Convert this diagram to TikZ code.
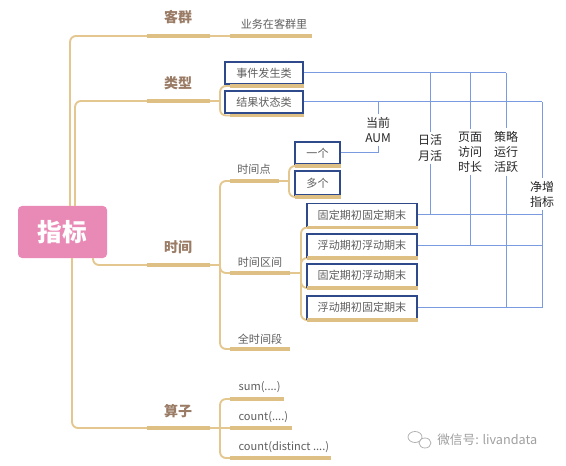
\documentclass[tikz,border=0pt]{standalone}
\usepackage{fontspec}
\setmainfont{Noto Sans CJK SC}
\definecolor{tanc}{HTML}{E3C78E}
\definecolor{tanul}{HTML}{DFC084}
\definecolor{brownc}{HTML}{9A7B65}
\definecolor{pinkc}{HTML}{E98AB6}
\definecolor{boxc}{HTML}{2F4A8A}
\definecolor{linec}{HTML}{7A9BE0}
\definecolor{grayc}{HTML}{5E5E5E}
\begin{document}
\begin{tikzpicture}[x=0.75pt,y=-0.75pt,
  tanln/.style={draw=tanc,line width=1.4pt,rounded corners=4.5pt},
  tanul/.style={draw=tanul,line width=2.4pt},
  lbl/.style={text=brownc,font=\bfseries\fontsize{10.5}{12}\selectfont,inner sep=1pt},
  sub/.style={text=grayc,font=\fontsize{8.3}{10}\selectfont,inner sep=1pt},
  bbox/.style={draw=boxc,line width=1.2pt,fill=white,text=grayc,font=\fontsize{8.3}{10}\selectfont,minimum height=16.5pt,inner sep=0pt},
  bl/.style={draw=linec,line width=0.75pt},
  blbl/.style={text=black!85,font=\fontsize{9}{11.3}\selectfont,align=center,inner sep=2pt},
  rootbox/.style={fill=pinkc,rounded corners=3pt,minimum width=66.75pt,minimum height=39pt,text=white,font=\bfseries\fontsize{18.5}{21}\selectfont}
]
\useasboundingbox (0,0) rectangle (566,466);

% root
\node[rootbox] (root) at (62.5,232) {指标};
\coordinate (r1) at (70,206);
\coordinate (r2) at (75,206);
\coordinate (r3) at (93,258);
\coordinate (r4) at (72,258);

% ---- 客群
\node[lbl] (kq) at (178,17) {客群};
\node[sub] (yw) at (274,24) {业务在客群里};
\coordinate (kqL) at (147,36); \coordinate (kqR) at (210,36);
\coordinate (ywL) at (230,36); \coordinate (ywR) at (312,36);
\draw[tanln] (r1) |- (ywL);
\draw[tanul] (kqL) -- (kqR);
\draw[tanul] (ywL) -- (ywR);

% ---- 类型
\node[lbl] (lx) at (178,83) {类型};
\coordinate (lxL) at (147,101); \coordinate (lxR) at (210,101); \coordinate (lxB) at (220,101);
\draw[tanln] (r2) |- (lxB);
\draw[tanul] (lxL) -- (lxR);
\node[bbox,minimum width=58.5pt] (evt) at (264,73) {事件发生类};
\node[bbox,minimum width=58.5pt] (res) at (264,102) {结果状态类};
\coordinate (evtU) at (230,86); \coordinate (resU) at (230,115.5);
\draw[tanln] (evtU) -| (lxB) |- (resU);
\draw[tanul] (evtU) -- (evtU -| evt.east);
\draw[tanul] (resU) -- (resU -| res.east);

% ---- 时间
\node[lbl] (sj) at (178,247) {时间};
\coordinate (sjL) at (147,265); \coordinate (sjR) at (210,265); \coordinate (sjB) at (220,265);
\draw[tanln] (r3) |- (sjB);
\draw[tanul] (sjL) -- (sjR);
\coordinate (sdU) at (230,181); \coordinate (qjU) at (230,273); \coordinate (qtU) at (230,349);
\draw[tanln] (sdU) -| (sjB) |- (qtU);
\draw[tanln] (sjB) |- (qjU);
\node[sub] (sd) at (254,169) {时间点};
\node[sub] (qj) at (260,262) {时间区间};
\node[sub] (qt) at (260,339) {全时间段};
\coordinate (sdR) at (279,181); \coordinate (qjR) at (290,273); \coordinate (qtR) at (290,349);
\draw[tanul] (sdU) -- (sdR);
\draw[tanul] (qjU) -- (qjR);
\draw[tanul] (qtU) -- (qtR);

% 时间点 children
\coordinate (sdB) at (289,181);
\coordinate (oneU) at (295,166); \coordinate (mulU) at (295,197);
\draw[tanln] (sdR) -- (sdB);
\draw[tanln] (oneU) -| (sdB) |- (mulU);
\node[bbox,minimum width=33.75pt] (one) at (317.5,153) {一个};
\node[bbox,minimum width=33.75pt,minimum height=18pt] (mul) at (317.5,183) {多个};
\draw[tanul] (oneU) -- (oneU -| one.east);
\draw[tanul] (mulU) -- (mulU -| mul.east);

% 时间区间 children
\coordinate (qjB) at (301,273);
\coordinate (f1U) at (307,227.5); \coordinate (f2U) at (307,258);
\coordinate (f3U) at (307,288); \coordinate (f4U) at (307,320);
\draw[tanln] (qjR) -- (qjB);
\draw[tanln] (f1U) -| (qjB) |- (f4U);
\draw[tanln] (qjB) |- (f2U);
\draw[tanln] (qjB) |- (f3U);
\node[bbox,minimum width=82.5pt,minimum height=17pt] (f1) at (362,215) {固定期初固定期末};
\node[bbox,minimum width=82.5pt,minimum height=17pt] (f2) at (362,245.5) {浮动期初浮动期末};
\node[bbox,minimum width=82.5pt,minimum height=17pt] (f3) at (362,275.5) {固定期初浮动期末};
\node[bbox,minimum width=82.5pt,minimum height=17pt] (f4) at (362,307.5) {浮动期初固定期末};
\draw[tanul] (f1U) -- (f1U -| f1.east);
\draw[tanul] (f2U) -- (f2U -| f2.east);
\draw[tanul] (f3U) -- (f3U -| f3.east);
\draw[tanul] (f4U) -- (f4U -| f4.east);

% ---- 算子
\node[lbl] (sz) at (178,411) {算子};
\coordinate (szL) at (147,428); \coordinate (szR) at (210,428); \coordinate (szB) at (220,428);
\draw[tanln] (r4) |- (szB);
\draw[tanul] (szL) -- (szR);
\coordinate (s1U) at (230,399); \coordinate (s2U) at (230,428); \coordinate (s3U) at (230,458);
\draw[tanln] (s1U) -| (szB) |- (s3U);
\draw[tanln] (szB) -- (s2U);
\node[sub,anchor=west] (s1) at (237,387) {sum(....)};
\node[sub,anchor=west] (s2) at (237,417) {count(....)};
\node[sub,anchor=west] (s3) at (237,447) {count(distinct ....)};
\draw[tanul] (s1U) -- (284,399);
\draw[tanul] (s2U) -- (292,428);
\draw[tanul] (s3U) -- (331,458);

% ---- blue metric links
\node[blbl] (aum) at (378,130) {当前\\AUM};
\node[blbl] (rh) at (430,148) {日活\\月活};
\node[blbl] (ym) at (470,152) {页面\\访问\\时长};
\node[blbl] (cl) at (506,152) {策略\\运行\\活跃};
\node[blbl] (jz) at (542,194) {净增\\指标};

\draw[bl] (evt.east) -- (cl.north |- evt.east);
\draw[bl] (res.east) -- (jz.north |- res.east);
\draw[bl] (aum.north |- res.east) -- (aum.north);
\draw[bl] (aum.south) |- (one.east);
\draw[bl] (rh.north |- evt.east) -- (rh.north);
\draw[bl] (rh.south) -- (rh.south |- f1.east);
\draw[bl] (ym.north |- evt.east) -- (ym.north);
\draw[bl] (ym.south) -- (ym.south |- f2.east);
\draw[bl] (cl.north |- evt.east) -- (cl.north);
\draw[bl] (cl.south) -- (cl.south |- f4.east);
\draw[bl] (jz.north |- res.east) -- (jz.north);
\draw[bl] (jz.south) -- (jz.south |- f4.east);
\draw[bl] (f1.east) -- (f1.east -| jz.south);
\draw[bl] (f2.east) -- (f2.east -| jz.south);
\draw[bl] (f4.east) -- (f4.east -| jz.south);

% ---- watermark
\draw[gray!60,line width=0.6pt] (415,437) ellipse [x radius=7, y radius=5.5];
\draw[gray!60,line width=0.6pt,fill=white] (425,443) ellipse [x radius=6, y radius=5];
\node[text=gray!75,font=\fontsize{9.5}{11}\selectfont,anchor=west,inner sep=0pt] (wm) at (437,440) {微信号: livandata};
\end{tikzpicture}
\end{document}
